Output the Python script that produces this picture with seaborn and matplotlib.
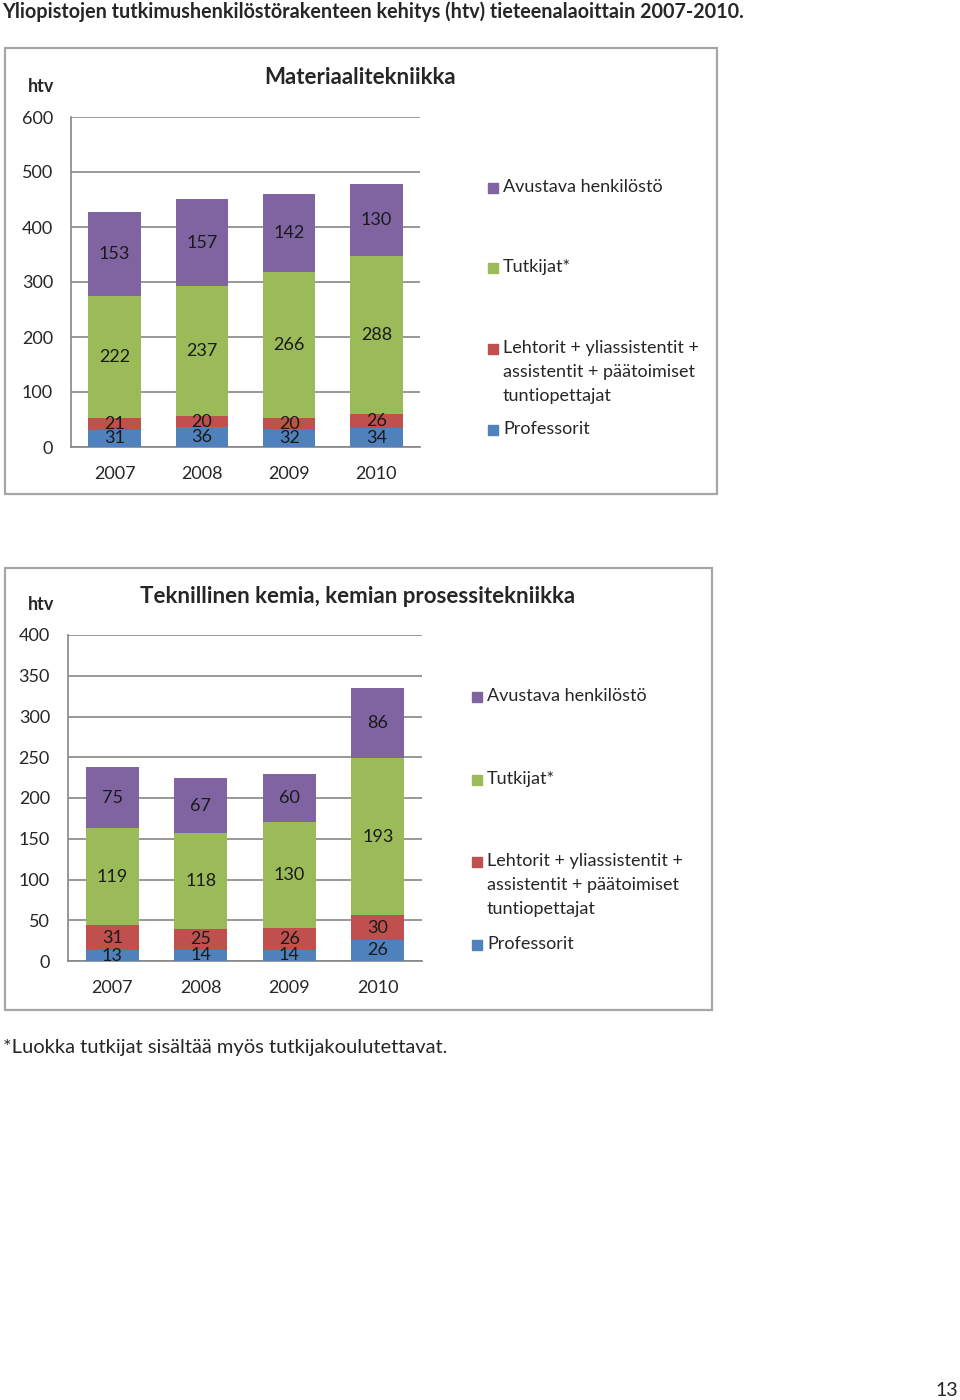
import numpy as np
import pandas as pd
import matplotlib.pyplot as plt
import seaborn as sns
from matplotlib.patches import Rectangle

## Data
years = ["2007", "2008", "2009", "2010"]
legend_labels = ["Avustava henkilöstö", "Tutkijat*",
                 "Lehtorit + yliassistentit +\nassistentit + päätoimiset\ntuntiopettajat",
                 "Professorit"]
# stacking order bottom -> top
colors = ["#4F81BD", "#C0504D", "#9BBB59", "#8064A2"]

mat_prof = [31, 36, 32, 34]
mat_lehtorit = [21, 20, 20, 26]
mat_tutkijat = [222, 237, 266, 288]
mat_avustava = [153, 157, 142, 130]
mat_yticks = [0, 100, 200, 300, 400, 500, 600]

kem_prof = [13, 14, 14, 26]
kem_lehtorit = [31, 25, 26, 30]
kem_tutkijat = [119, 118, 130, 193]
kem_avustava = [75, 67, 60, 86]
kem_yticks = [0, 50, 100, 150, 200, 250, 300, 350, 400]

sns.set_style("white")
plt.rcParams['font.family'] = ['Lato', 'DejaVu Sans']

W, H = 960, 1400
fig = plt.figure(figsize=(W / 100, H / 100), dpi=100)
gridc = "#868686"


def px_axes(l, t, r, b):
    return fig.add_axes([l / W, 1 - b / H, (r - l) / W, (b - t) / H])


def panel(box, ax_box, title, title_xy, stacks, yticks, leg_x, leg_y):
    # gray frame round the chart
    l, t, r, b = box
    fig.add_artist(Rectangle((l / W, 1 - b / H), (r - l) / W, (b - t) / H,
                             transform=fig.transFigure, fill=False,
                             edgecolor="#a6a6a6", lw=1.6))
    ax = px_axes(*ax_box)
    bottom = np.zeros(len(years))
    for vals, c in zip(stacks, colors):
        sns.barplot(x=years, y=vals, bottom=bottom, color=c, saturation=1,
                    width=0.6, errorbar=None, ax=ax, zorder=3, linewidth=0)
        bottom += np.array(vals)
    for cont in ax.containers:
        ax.bar_label(cont, label_type="center", fontsize=13, color="#1a1a1a")
    ax.set_xlim(-0.5, 3.5)
    ax.set_ylim(yticks[0], yticks[-1])
    ax.set_yticks(yticks)
    ax.yaxis.grid(True, color=gridc, lw=1.2, zorder=0)
    ax.set_axisbelow(True)
    for s in ["top", "right"]:
        ax.spines[s].set_visible(False)
    for s in ["left", "bottom"]:
        ax.spines[s].set_color(gridc)
        ax.spines[s].set_linewidth(1.2)
    ax.tick_params(axis="y", length=5, color=gridc, width=1.2, labelsize=13, pad=8)
    ax.tick_params(axis="x", which="major", length=0, labelsize=13, pad=14)
    ax.set_xticks([-0.5, 0.5, 1.5, 2.5, 3.5], minor=True)
    ax.tick_params(axis="x", which="minor", length=6, color=gridc, width=1.2)
    ax.set_xlabel("")
    ax.set_ylabel("")
    # "htv" unit label and chart title
    fig.text(28 / W, 1 - (ax_box[1] - 30) / H, "htv", fontsize=13,
             fontweight="bold", va="center", ha="left")
    fig.text(title_xy[0] / W, 1 - title_xy[1] / H, title, fontsize=16,
             fontweight="bold", va="center", ha="center")
    # legend, drawn by hand to keep Excel's uneven spacing
    for lab, c, y in zip(legend_labels, colors[::-1], leg_y):
        fig.add_artist(Rectangle((leg_x / W, 1 - (y + 5) / H), 10 / W, 10 / H,
                                 transform=fig.transFigure, color=c))
        fig.text((leg_x + 15) / W, 1 - (y - 9) / H, lab, fontsize=13,
                 va="top", ha="left", linespacing=1.6)
    return ax


panel((5, 48, 717, 494), (71, 117, 420, 447), "Materiaalitekniikka", (360, 77),
      [mat_prof, mat_lehtorit, mat_tutkijat, mat_avustava], mat_yticks,
      488, [188, 268, 349, 430])
panel((5, 568, 712, 1010), (68, 635, 422, 961),
      "Teknillinen kemia, kemian prosessitekniikka", (358, 597),
      [kem_prof, kem_lehtorit, kem_tutkijat, kem_avustava], kem_yticks,
      472, [697, 780, 862, 945])

fig.text(2 / W, 1 - 12 / H,
         "Yliopistojen tutkimushenkilöstörakenteen kehitys (htv) tieteenalaoittain 2007-2010.",
         fontsize=14.2, fontweight="bold", va="center", ha="left")
fig.text(3 / W, 1 - 1048 / H,
         "*Luokka tutkijat sisältää myös tutkijakoulutettavat.",
         fontsize=14.5, va="center", ha="left")
fig.text(958 / W, 1 - 1390 / H, "13", fontsize=14, va="center", ha="right")

fig.savefig("out.png", dpi=100)
